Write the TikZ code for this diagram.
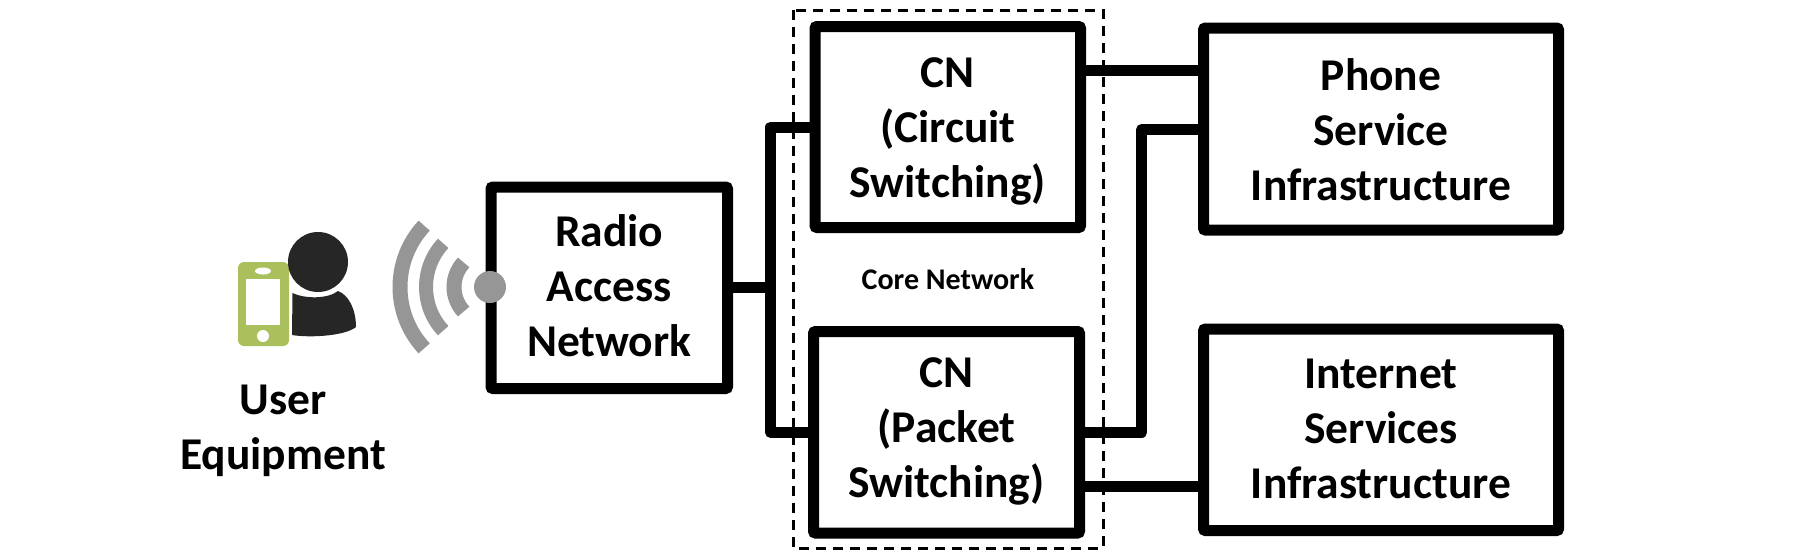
\documentclass[tikz,border=0pt]{standalone}
\usepackage{fontspec}
\setmainfont{Carlito}
\definecolor{phonegreen}{HTML}{A9C05C}
\definecolor{persongray}{HTML}{262626}
\definecolor{wavegray}{HTML}{969696}
\newcommand{\lifttext}[1]{\rule{0pt}{#1pt}}
\tikzset{
	netbox/.style={draw=black, line width=11pt, rounded corners=2pt, inner sep=0pt, outer sep=0pt, align=center, font=\fontsize{45.5}{55}\selectfont\bfseries,
		execute at end node={\rule[-25pt]{0pt}{25pt}}},
	link/.style={line width=11pt, line join=round},
	wave/.style={draw=wavegray}
}
\begin{document}
\begin{tikzpicture}[x=1pt, y=-1pt]
	\useasboundingbox (0, 0) rectangle (1795, 555);

	\draw[line width=3pt, dash pattern=on 10pt off 7pt] (793, 10) rectangle (1103, 548);

	\node[netbox, minimum width=236.5pt, minimum height=201.5pt] (radio) at (609.25, 287.75) {\lifttext{53}Radio\\Access\\Network};
	\node[netbox, minimum width=265.5pt, minimum height=201pt] (circuit) at (947.75, 127) {\lifttext{56}CN\\(Circuit\\Switching)};
	\node[netbox, minimum width=266pt, minimum height=201.5pt] (packet) at (946.5, 432.25) {\lifttext{46}CN\\(Packet\\Switching)};
	\node[netbox, minimum width=355pt, minimum height=202pt] (phone) at (1381, 129) {\lifttext{57}Phone\\Service\\Infrastructure};
	\node[netbox, minimum width=355pt, minimum height=201.5pt] (internet) at (1381, 429.75) {\lifttext{53}Internet\\Services\\Infrastructure};

	\coordinate (bus) at (770.5, 287.75);
	\coordinate (riser) at (1141.7, 432.25);
	\coordinate (phonetop) at (1203.5, 70.5);
	\coordinate (phonelow) at (1203.5, 129.5);
	\coordinate (netin) at (1203.5, 486);

	\draw[link] (radio.east) -- (bus);
	\draw[link] (circuit.west) -| (bus) |- (packet.west);
	\draw[link] (circuit.east |- phonetop) -- (phonetop);
	\draw[link] (packet.east) -- (riser) |- (phonelow);
	\draw[link] (packet.east |- netin) -- (netin);

	\node[font=\fontsize{30}{36}\selectfont\bfseries] (corelabel) at (948, 279) {Core Network};
	\node[align=center, font=\fontsize{45.5}{55}\selectfont\bfseries] (userlabel) at (283, 431) {User\\Equipment};

	% phone
	\fill[phonegreen, rounded corners=6pt] (238, 262) rectangle (289, 346);
	\fill[white] (246, 279) rectangle (280, 325);
	\fill[white] (263, 271) ellipse (8pt and 3.5pt);
	\fill[white] (263, 336) circle (6pt);

	% person
	\fill[persongray] (318, 262) circle (30pt);
	\fill[persongray] (292.5, 293) .. controls (305, 299) and (328, 299) .. (338, 291) .. controls (349, 295) and (356, 310) .. (356, 327) .. controls (345, 336) and (310, 338) .. (292, 335) -- cycle;

	% signal
	\foreach \rad/\wid in {90/15, 64/14, 36/15}
		\draw[wave, line width=\wid pt] (490, 287) ++(137:\rad) arc[start angle=137, end angle=223, radius=\rad];
	\fill[wavegray] (490, 287) circle (16pt);
\end{tikzpicture}
\end{document}
